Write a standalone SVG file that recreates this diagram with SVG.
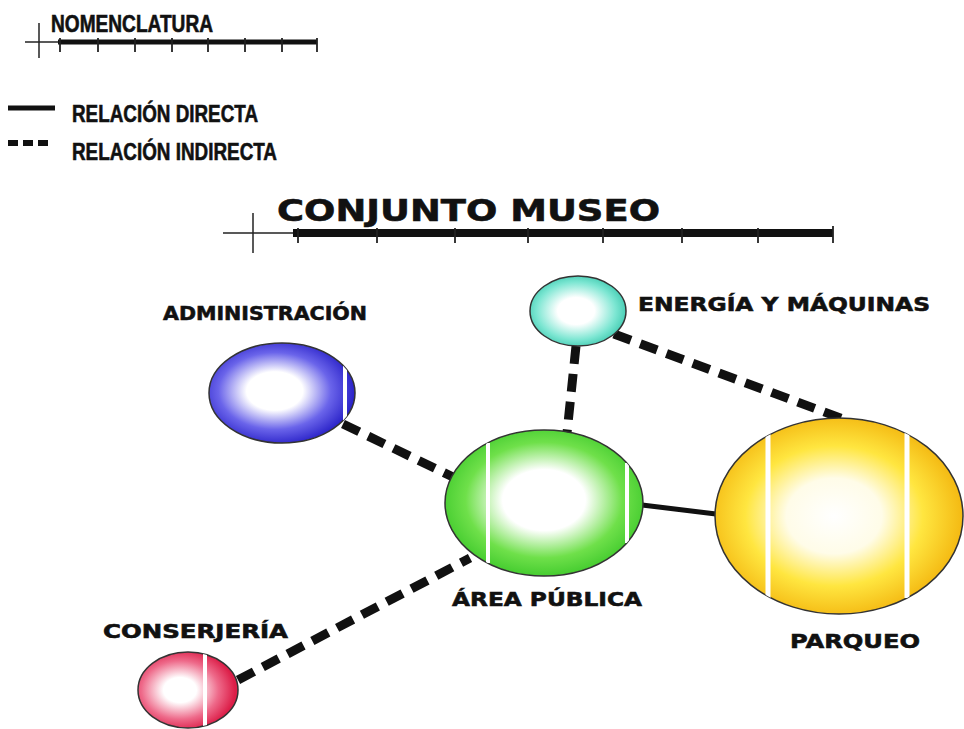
<svg xmlns="http://www.w3.org/2000/svg" width="964" height="729" viewBox="0 0 964 729">
<style>
.leg{font-family:"Liberation Sans Narrow","Liberation Sans",Arial,sans-serif;font-weight:bold;fill:#111;stroke:#111;stroke-width:0.6}
.lbl{font-family:"DejaVu Sans","Liberation Sans",sans-serif;font-weight:bold;fill:#111;stroke:#111;stroke-width:0.6}
.thin{stroke:#222;stroke-width:1.5;fill:none}
.thick{stroke:#111;fill:none}
.tick{stroke:#222;stroke-width:1.8}
.dash{stroke:#111;stroke-width:9;fill:none;stroke-dasharray:18 10}
.solid{stroke:#111;stroke-width:5;fill:none}
.edge{stroke:#333;stroke-width:1.5}
.strip{stroke:#fff;stroke-width:4}
</style>
<defs>
<radialGradient id="gBlue" cx="0.45" cy="0.48" r="0.55"><stop offset="0" stop-color="#fff"/><stop offset="0.35" stop-color="#fff"/><stop offset="0.7" stop-color="#6a64ea"/><stop offset="1" stop-color="#2a22c8"/></radialGradient>
<radialGradient id="gCyan" cx="0.48" cy="0.5" r="0.55"><stop offset="0" stop-color="#fff"/><stop offset="0.35" stop-color="#fff"/><stop offset="0.75" stop-color="#7ce6d2"/><stop offset="1" stop-color="#3cc8ae"/></radialGradient>
<radialGradient id="gGreen" cx="0.5" cy="0.48" r="0.55"><stop offset="0" stop-color="#fff"/><stop offset="0.38" stop-color="#fff"/><stop offset="0.72" stop-color="#6fe04a"/><stop offset="1" stop-color="#3cc82a"/></radialGradient>
<radialGradient id="gYellow" cx="0.48" cy="0.5" r="0.55"><stop offset="0" stop-color="#fff"/><stop offset="0.35" stop-color="#fffce8"/><stop offset="0.65" stop-color="#ffe640"/><stop offset="1" stop-color="#f2b10a"/></radialGradient>
<radialGradient id="gRed" cx="0.42" cy="0.5" r="0.55"><stop offset="0" stop-color="#fff"/><stop offset="0.3" stop-color="#fff"/><stop offset="0.7" stop-color="#ee6a8a"/><stop offset="1" stop-color="#dc1e48"/></radialGradient>
<clipPath id="cBlue"><ellipse cx="282" cy="393" rx="73" ry="50"/></clipPath>
<clipPath id="cGreen"><ellipse cx="544" cy="503" rx="99" ry="73"/></clipPath>
<clipPath id="cYellow"><ellipse cx="839" cy="516" rx="124" ry="98"/></clipPath>
<clipPath id="cRed"><ellipse cx="188" cy="690" rx="50" ry="38"/></clipPath>
</defs>
<rect width="964" height="729" fill="#fff"/>

<g id="legend">
<text class="leg" x="51" y="32" font-size="23" textLength="162" lengthAdjust="spacingAndGlyphs">NOMENCLATURA</text>
<line class="thin" x1="25" y1="42" x2="60" y2="42"/>
<line class="thin" x1="39" y1="23" x2="39" y2="58"/>
<line class="thick" x1="58" y1="42" x2="317" y2="42" stroke-width="5"/>
<g class="tick"><line x1="60" y1="38" x2="60" y2="52"/><line x1="98" y1="38" x2="98" y2="52"/><line x1="135" y1="38" x2="135" y2="52"/><line x1="172" y1="38" x2="172" y2="52"/><line x1="208" y1="38" x2="208" y2="52"/><line x1="245" y1="38" x2="245" y2="52"/><line x1="282" y1="38" x2="282" y2="52"/><line x1="317" y1="38" x2="317" y2="52"/></g>
<line x1="8" y1="108" x2="55" y2="108" stroke="#111" stroke-width="5"/>
<text class="leg" x="72" y="122" font-size="24" textLength="186" lengthAdjust="spacingAndGlyphs">RELACIÓN DIRECTA</text>
<line x1="8" y1="143" x2="53" y2="143" stroke="#111" stroke-width="6" stroke-dasharray="10 5"/>
<text class="leg" x="72" y="160" font-size="24" textLength="205" lengthAdjust="spacingAndGlyphs">RELACIÓN INDIRECTA</text>
</g>

<g id="title">
<text class="lbl" x="277" y="221" font-size="31" textLength="383" lengthAdjust="spacingAndGlyphs">CONJUNTO MUSEO</text>
<line class="thin" x1="223" y1="233" x2="295" y2="233"/>
<line class="thin" x1="253" y1="213" x2="253" y2="253"/>
<line class="thick" x1="293" y1="233" x2="833" y2="233" stroke-width="8"/>
<g class="tick"><line x1="298" y1="228" x2="298" y2="243"/><line x1="377" y1="228" x2="377" y2="243"/><line x1="455" y1="228" x2="455" y2="243"/><line x1="528" y1="228" x2="528" y2="243"/><line x1="603" y1="228" x2="603" y2="243"/><line x1="682" y1="228" x2="682" y2="243"/><line x1="758" y1="228" x2="758" y2="243"/><line x1="833" y1="226" x2="833" y2="243"/></g>
</g>

<g id="connectors">
<line class="dash" x1="343" y1="424" x2="455" y2="478"/>
<line class="dash" x1="576" y1="346" x2="567" y2="433"/>
<line class="dash" x1="614" y1="334" x2="846" y2="420"/>
<line class="dash" x1="238" y1="680" x2="470" y2="558"/>
<line class="solid" x1="642" y1="505" x2="716" y2="514"/>
</g>

<g id="administracion">
<ellipse cx="282" cy="393" rx="73" ry="50" fill="url(#gBlue)" class="edge" stroke="#223"/>
<line class="strip" x1="345" y1="340" x2="345" y2="446" clip-path="url(#cBlue)"/>
<text class="lbl" x="163" y="320" font-size="20" textLength="204" lengthAdjust="spacingAndGlyphs">ADMINISTRACIÓN</text>
</g>

<g id="energia">
<ellipse cx="578" cy="311" rx="48" ry="35" fill="url(#gCyan)" class="edge"/>
<text class="lbl" x="638" y="311" font-size="20" textLength="292" lengthAdjust="spacingAndGlyphs">ENERGÍA Y MÁQUINAS</text>
</g>

<g id="area-publica">
<ellipse cx="544" cy="503" rx="99" ry="73" fill="url(#gGreen)" class="edge"/>
<g clip-path="url(#cGreen)" class="strip"><line x1="488" y1="443" x2="488" y2="563"/><line x1="627" y1="463" x2="627" y2="543"/></g>
<text class="lbl" x="452" y="606" font-size="20" textLength="190" lengthAdjust="spacingAndGlyphs">ÁREA PÚBLICA</text>
</g>

<g id="parqueo">
<ellipse cx="839" cy="516" rx="124" ry="98" fill="url(#gYellow)" class="edge"/>
<g clip-path="url(#cYellow)" class="strip"><line x1="768" y1="432" x2="768" y2="598" stroke-width="5"/><line x1="907" y1="432" x2="907" y2="598" stroke-width="5"/></g>
<text class="lbl" x="790" y="648" font-size="20" textLength="130" lengthAdjust="spacingAndGlyphs">PARQUEO</text>
</g>

<g id="conserjeria">
<ellipse cx="188" cy="690" rx="50" ry="38" fill="url(#gRed)" class="edge"/>
<line class="strip" x1="205" y1="650" x2="205" y2="730" clip-path="url(#cRed)"/>
<text class="lbl" x="103" y="638" font-size="19" textLength="185" lengthAdjust="spacingAndGlyphs">CONSERJERÍA</text>
</g>
</svg>
